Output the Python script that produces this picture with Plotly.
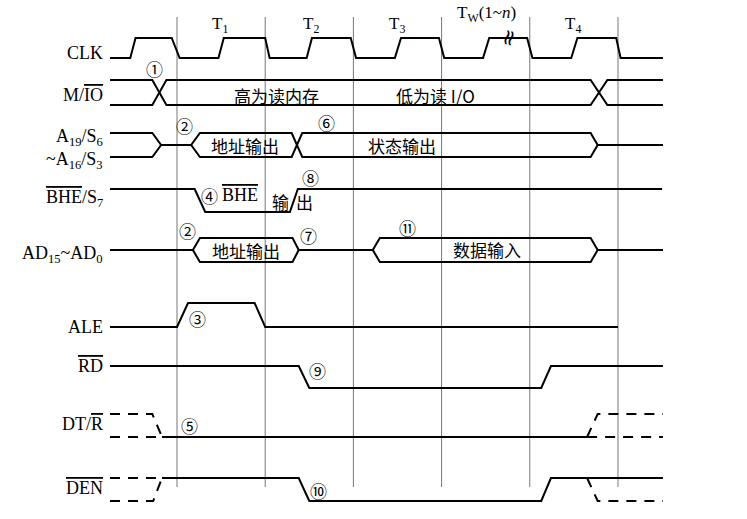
import plotly.graph_objects as go

# time axis in T-states: 0 = start of T1, grid lines at state boundaries
state_edges = [0, 1, 2, 3, 4, 5]
state_labels = ["T<sub>1</sub>", "T<sub>2</sub>", "T<sub>3</sub>", "T<sub>W</sub>(1~<i>n</i>)", "T<sub>4</sub>"]
state_label_t = [0.49, 1.52, 2.49, 3.51, 4.49]

# rows: (y of high level, y of low level) in picture pixels
rows = {
    "CLK": (38, 58),
    "MIO": (80, 105),
    "A19": (133, 157),
    "BHE": (189, 212),
    "AD": (238, 262),
    "ALE": (303, 327),
    "RD": (366, 388),
    "DTR": (414, 437),
    "DEN": (478, 501),
}

clk_t = [-0.76, -0.53, -0.47, -0.06, 0.03, 0.47, 0.53, 1.0, 1.05, 1.47, 1.53, 1.97, 2.03,
         2.47, 2.54, 2.97, 3.03, 3.47, 3.54, 3.97, 4.03, 4.47, 4.54, 4.98, 5.03, 5.51]
clk_v = [0, 0, 1, 1, 0, 0, 1, 1, 0, 0, 1, 1, 0, 0, 1, 1, 0, 0, 1, 1, 0, 0, 1, 1, 0, 0]

mio_t = [-0.76, -0.28, -0.12, 4.69, 4.88, 5.51]
mio_a = [1, 1, 0, 0, 1, 1]
mio_b = [0, 0, 1, 1, 0, 0]

a19_t = [-0.76, -0.28, -0.18, 0.16, 0.26, 1.30, 1.42, 4.69, 4.77, 5.51]
a19_a = [1, 1, 0.5, 0.5, 1, 1, 0, 0, 0.5, 0.5]
a19_b = [0, 0, 0.5, 0.5, 0, 0, 1, 1, 0.5, 0.5]

bhe_t = [-0.76, 0.20, 0.32, 1.28, 1.37, 5.50]
bhe_v = [1, 1, 0, 0, 1, 1]

ad_t = [-0.76, 0.18, 0.26, 1.31, 1.38, 2.22, 2.30, 4.69, 4.77, 5.51]
ad_a = [0.5, 0.5, 1, 1, 0.5, 0.5, 1, 1, 0.5, 0.5]
ad_b = [0.5, 0.5, 0, 0, 0.5, 0.5, 0, 0, 0.5, 0.5]

ale_t = [-0.76, 0.0, 0.125, 0.88, 1.0, 5.0]
ale_v = [0, 0, 1, 1, 0, 0]

rd_t = [-0.76, 1.38, 1.50, 4.13, 4.24, 5.51]
rd_v = [1, 1, 0, 0, 1, 1]

dtr_solid_t = [-0.17, 4.65]
dtr_solid_v = [0, 0]
dtr_dash = [
    ([-0.76, -0.28, -0.17], [1, 1, 0]),
    ([-0.76, -0.17], [0, 0]),
    ([4.65, 4.77, 5.51], [0, 1, 1]),
    ([4.65, 5.51], [0, 0]),
]

den_solid_t = [-0.17, 1.38, 1.50, 4.13, 4.24, 5.51]
den_solid_v = [1, 1, 0, 0, 1, 1]
den_dash = [
    ([-0.76, -0.17], [1, 1]),
    ([-0.76, -0.27, -0.17], [0, 0, 1]),
    ([4.65, 4.77, 5.51], [1, 0, 0]),
]

OL = "<span style='text-decoration:overline'>{}</span>"

# signal names: (text, y)
signal_names = [
    ("CLK", 53),
    ("M/" + OL.format("IO"), 95),
    ("A<sub>19</sub>/S<sub>6</sub>", 137),
    ("~A<sub>16</sub>/S<sub>3</sub>", 160),
    (OL.format("BHE") + "/S<sub>7</sub>", 198),
    ("AD<sub>15</sub>~AD<sub>0</sub>", 254),
    ("ALE", 327),
    (OL.format("RD"), 366),
    ("DT/" + OL.format("R"), 424),
    (OL.format("DEN"), 488),
]

# notes on the waveforms: (text, t, y)
cn_notes = [
    ("高为读内存", 1.13, 95),
    ("低为读 I/O", 2.93, 95),
    ("地址输出", 0.77, 145),
    ("状态输出", 2.55, 145),
    ("输", 1.17, 201),
    ("出", 1.45, 201),
    ("地址输出", 0.78, 250),
    ("数据输入", 3.52, 249),
]
circled = [
    ("①", -0.25, 68), ("②", 0.08, 125), ("⑥", 1.69, 122), ("④", 0.37, 195),
    ("⑧", 1.51, 177), ("②", 0.12, 230), ("⑦", 1.49, 235), ("⑪", 2.61, 227),
    ("③", 0.23, 318), ("⑨", 1.59, 370), ("⑤", 0.14, 425), ("⑩", 1.60, 490),
]


def level_y(row, vals):
    hi, lo = rows[row]
    return [lo + (hi - lo) * v for v in vals]


fig = go.Figure()

# state boundary lines
gx, gy = [], []
for t in state_edges:
    gx += [t, t, None]
    gy += [17, 487, None]
fig.add_trace(go.Scatter(x=gx, y=gy, mode="lines", line=dict(color="#777777", width=1),
                         hoverinfo="skip"))

solid = [
    ("CLK", clk_t, clk_v), ("MIO", mio_t, mio_a), ("MIO", mio_t, mio_b),
    ("A19", a19_t, a19_a), ("A19", a19_t, a19_b), ("BHE", bhe_t, bhe_v),
    ("AD", ad_t, ad_a), ("AD", ad_t, ad_b), ("ALE", ale_t, ale_v),
    ("RD", rd_t, rd_v), ("DTR", dtr_solid_t, dtr_solid_v), ("DEN", den_solid_t, den_solid_v),
]
for row, t, v in solid:
    fig.add_trace(go.Scatter(x=t, y=level_y(row, v), mode="lines",
                             line=dict(color="black", width=2), hoverinfo="skip"))

for row, parts in (("DTR", dtr_dash), ("DEN", den_dash)):
    for t, v in parts:
        fig.add_trace(go.Scatter(x=t, y=level_y(row, v), mode="lines",
                                 line=dict(color="black", width=2, dash="10px,8px"),
                                 hoverinfo="skip"))

serif = "Liberation Serif"
cjk = "Noto Sans CJK SC"

for txt, t in zip(state_labels, state_label_t):
    fig.add_annotation(x=t, y=14 if "W" in txt else 25, text=txt, showarrow=False,
                       font=dict(family=serif, size=17, color="black"))

for txt, y in signal_names:
    fig.add_annotation(x=-0.82, y=y, text=txt, showarrow=False, xanchor="right",
                       font=dict(family=serif, size=18, color="black"))

for txt, t, y in cn_notes:
    fig.add_annotation(x=t, y=y, text=txt, showarrow=False,
                       font=dict(family=cjk, size=17, color="black"))

fig.add_annotation(x=0.71, y=195, text=OL.format("BHE"),
                   showarrow=False, font=dict(family=serif, size=18, color="black"))

for txt, t, y in circled:
    fig.add_annotation(x=t, y=y, text=txt, showarrow=False,
                       font=dict(family=cjk, size=17, color="black"))

# break mark on the wait-state clock pulse
fig.add_annotation(x=3.75, y=38, text="≈", showarrow=False, textangle=-75,
                   font=dict(family="DejaVu Sans", size=22, color="black"))

fig.update_layout(
    width=747, height=519, margin=dict(l=0, r=0, t=0, b=0),
    paper_bgcolor="white", plot_bgcolor="white", showlegend=False,
    xaxis=dict(range=[-2.007, 6.463], visible=False),
    yaxis=dict(range=[519, 0], visible=False),
)

# drop the page margin so the figure sits at the window corner
fig.write_html("out.html", config={"displayModeBar": False},
               post_script="document.body.style.margin='0';")
